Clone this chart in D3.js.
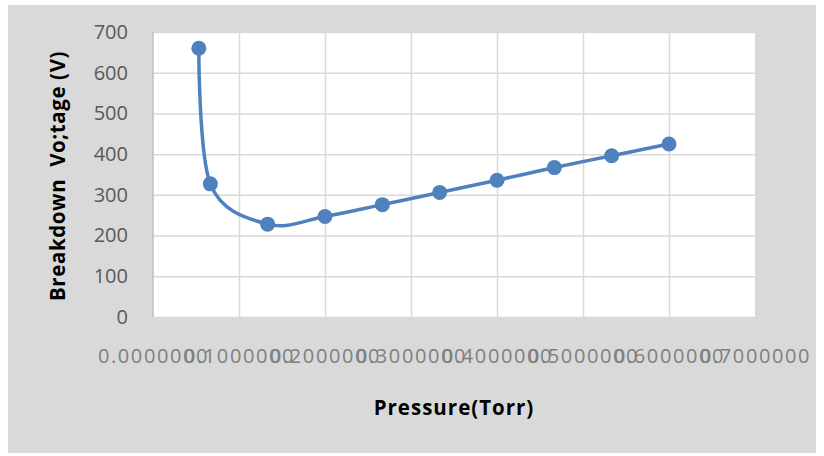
<!DOCTYPE html>
<html>
<head>
<meta charset="utf-8">
<script src="https://cdn.jsdelivr.net/npm/d3@7/dist/d3.min.js"></script>
<style>
  html, body { margin: 0; padding: 0; background: #ffffff; }
  svg { display: block; }
</style>
</head>
<body>
<svg id="chart" width="824" height="456"></svg>
<script>
// Paschen-type curve: breakdown voltage against gas pressure
const pressure = [0.0533, 0.0667, 0.1333, 0.2000, 0.2667, 0.3333, 0.4000, 0.4667, 0.5333, 0.6000];
const voltage  = [660, 327, 228, 247, 276, 306, 336, 367, 396, 425];
const xTicks = [0, 0.1, 0.2, 0.3, 0.4, 0.5, 0.6, 0.7];
const yTicks = [0, 100, 200, 300, 400, 500, 600, 700];
const xTitle = "Pressure(Torr)";
const yTitle = "Breakdown  Vo;tage (V)";

const svg = d3.select("#chart");
const plot = { left: 153, right: 755, top: 32, bottom: 317 };

// chart panel background
svg.append("rect")
  .attr("x", 8).attr("y", 5).attr("width", 808).attr("height", 448)
  .attr("fill", "#d9d9d9");

// plot area
svg.append("rect")
  .attr("x", plot.left).attr("y", plot.top)
  .attr("width", plot.right - plot.left).attr("height", plot.bottom - plot.top)
  .attr("fill", "#ffffff");

const x = d3.scaleLinear().domain([0, 0.7]).range([plot.left, plot.right]);
const y = d3.scaleLinear().domain([0, 700]).range([plot.bottom, plot.top]);

const font = "'Open Sans', 'Liberation Sans', sans-serif";

// horizontal gridlines
svg.append("g")
  .attr("transform", `translate(${plot.left},0)`)
  .call(d3.axisLeft(y).tickValues(yTicks).tickSize(-(plot.right - plot.left)).tickFormat(""))
  .call(g => g.select(".domain").remove())
  .call(g => g.selectAll(".tick line").attr("stroke", "#d9d9d9").attr("stroke-width", 1.5));

// vertical gridlines
svg.append("g")
  .attr("transform", `translate(0,${plot.bottom})`)
  .call(d3.axisBottom(x).tickValues(xTicks.filter(v => v > 0 && v < 0.7))
    .tickSize(-(plot.bottom - plot.top)).tickFormat(""))
  .call(g => g.select(".domain").remove())
  .call(g => g.selectAll(".tick line").attr("stroke", "#d9d9d9").attr("stroke-width", 1.5));

// vertical axis line
svg.append("line")
  .attr("x1", plot.left).attr("x2", plot.left)
  .attr("y1", plot.top).attr("y2", plot.bottom)
  .attr("stroke", "#bfbfbf").attr("stroke-width", 1.5);

// y tick labels
const yAxis = svg.append("g")
  .attr("transform", `translate(${plot.left},0)`)
  .call(d3.axisLeft(y).tickValues(yTicks).tickSize(0).tickPadding(25).tickFormat(d3.format("d")));
yAxis.select(".domain").remove();
yAxis.selectAll("text")
  .attr("font-family", font).attr("font-size", 20).attr("fill", "#595959");

// x tick labels (wide fixed-decimal labels, as in the spreadsheet export)
const xAxis = svg.append("g")
  .attr("transform", `translate(0,${plot.bottom})`)
  .call(d3.axisBottom(x).tickValues(xTicks).tickSize(0).tickPadding(0).tickFormat(d3.format(".7f")));
xAxis.select(".domain").remove();
xAxis.selectAll("text")
  .attr("dy", null).attr("y", 46)
  .attr("font-family", font).attr("font-size", 20).attr("fill", "#7f7f7f")
  .attr("letter-spacing", 1.6);

// smoothed series line
const pts = pressure.map((p, i) => [x(p), y(voltage[i])]);
svg.append("path")
  .datum(pts)
  .attr("d", d3.line().curve(d3.curveCardinal.tension(0)))
  .attr("fill", "none")
  .attr("stroke", "#4f81bd")
  .attr("stroke-width", 3.5)
  .attr("stroke-linejoin", "round");

// markers
svg.append("g").selectAll("circle")
  .data(pts)
  .join("circle")
  .attr("cx", d => d[0]).attr("cy", d => d[1])
  .attr("r", 7.5)
  .attr("fill", "#4f81bd");

// axis titles
svg.append("text")
  .attr("x", 454).attr("y", 415)
  .attr("text-anchor", "middle")
  .attr("font-family", font).attr("font-weight", "bold").attr("font-size", 20.5)
  .attr("letter-spacing", 1)
  .attr("fill", "#000000")
  .text(xTitle);

svg.append("text")
  .attr("transform", "translate(65,176) rotate(-90)")
  .attr("text-anchor", "middle")
  .attr("font-family", font).attr("font-weight", "bold").attr("font-size", 20.5)
  .attr("letter-spacing", 0.6)
  .attr("fill", "#000000")
  .attr("xml:space", "preserve")
  .style("white-space", "pre")
  .text(yTitle);
</script>
</body>
</html>
